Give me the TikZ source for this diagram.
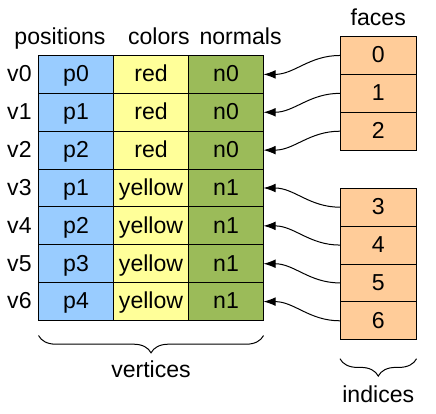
\documentclass[tikz,border=0pt]{standalone}
\usepackage{fontspec}
\setmainfont{Liberation Sans}
\usetikzlibrary{positioning,arrows.meta,decorations.pathreplacing}
\definecolor{posblue}{RGB}{153,204,255}
\definecolor{colyellow}{RGB}{255,255,153}
\definecolor{nrmgreen}{RGB}{155,187,89}
\definecolor{idxorange}{RGB}{255,204,153}
\tikzset{
	vtxcell/.style={
		draw,
		line width=0.75pt,
		outer sep=0pt,
		inner sep=0pt,
		minimum width=56.25pt,
		minimum height=28.4pt,
		text height=11pt,
		text depth=0pt
	},
	vtxPos/.style={vtxcell, fill=posblue},
	vtxCol/.style={vtxcell, fill=colyellow},
	vtxNrm/.style={vtxcell, fill=nrmgreen},
	faceIdx/.style={vtxcell, fill=idxorange, minimum width=57.4pt},
	headLabel/.style={inner sep=0pt},
	idxArrow/.style={-{Latex[length=9pt,width=6.5pt]}, line width=0.75pt},
	idxBrace/.style={decorate, decoration={brace, mirror, amplitude=13pt}, line width=0.75pt}
}

\begin{document}
\begin{tikzpicture}[font=\fontsize{17.3pt}{20pt}\selectfont]

			\useasboundingbox (0,0) rectangle (327pt,-310.5pt);

			% Vertex table
			\node[vtxPos, anchor=north west] (pos0) at (28.9pt,-41.6pt) {p0};
			\node[vtxCol, right=0pt of pos0] (col0) {red};
			\node[vtxNrm, right=0pt of col0] (nrm0) {n0};

			\node[vtxPos, below=0pt of pos0] (pos1) {p1};
			\node[vtxCol, right=0pt of pos1] (col1) {red};
			\node[vtxNrm, right=0pt of col1] (nrm1) {n0};

			\node[vtxPos, below=0pt of pos1] (pos2) {p2};
			\node[vtxCol, right=0pt of pos2] (col2) {red};
			\node[vtxNrm, right=0pt of col2] (nrm2) {n0};

			\node[vtxPos, below=0pt of pos2] (pos3) {p1};
			\node[vtxCol, right=0pt of pos3] (col3) {yellow};
			\node[vtxNrm, right=0pt of col3] (nrm3) {n1};

			\node[vtxPos, below=0pt of pos3] (pos4) {p2};
			\node[vtxCol, right=0pt of pos4] (col4) {yellow};
			\node[vtxNrm, right=0pt of col4] (nrm4) {n1};

			\node[vtxPos, below=0pt of pos4] (pos5) {p3};
			\node[vtxCol, right=0pt of pos5] (col5) {yellow};
			\node[vtxNrm, right=0pt of col5] (nrm5) {n1};

			\node[vtxPos, below=0pt of pos5] (pos6) {p4};
			\node[vtxCol, right=0pt of pos6] (col6) {yellow};
			\node[vtxNrm, right=0pt of col6] (nrm6) {n1};

			% Column and row labels
			\node[headLabel, anchor=base] (posHead) at (45pt,-33pt) {positions};
			\node[headLabel, anchor=base] (colHead) at (119.1pt,-33pt) {colors};
			\node[headLabel, anchor=base] (nrmHead) at (180.4pt,-33pt) {normals};

			\node[headLabel, anchor=base east] (v0) at ([xshift=-5pt]pos0.base west) {v0};
			\node[headLabel, anchor=base east] (v1) at ([xshift=-5pt]pos1.base west) {v1};
			\node[headLabel, anchor=base east] (v2) at ([xshift=-5pt]pos2.base west) {v2};
			\node[headLabel, anchor=base east] (v3) at ([xshift=-5pt]pos3.base west) {v3};
			\node[headLabel, anchor=base east] (v4) at ([xshift=-5pt]pos4.base west) {v4};
			\node[headLabel, anchor=base east] (v5) at ([xshift=-5pt]pos5.base west) {v5};
			\node[headLabel, anchor=base east] (v6) at ([xshift=-5pt]pos6.base west) {v6};

			% Face indices
			\node[faceIdx, anchor=north west] (face0) at (255pt,-27.4pt) {0};
			\node[faceIdx, below=0pt of face0] (face1) {1};
			\node[faceIdx, below=0pt of face1] (face2) {2};

			\node[faceIdx, anchor=north west] (face3) at (255pt,-141.2pt) {3};
			\node[faceIdx, below=0pt of face3] (face4) {4};
			\node[faceIdx, below=0pt of face4] (face5) {5};
			\node[faceIdx, below=0pt of face5] (face6) {6};

			\node[headLabel, anchor=base] (facesHead) at ([yshift=8.6pt]face0.north) {faces};

			% Index arrows
			\draw[idxArrow] (face0.west) to[out=180, in=0] (nrm0.east);
			\draw[idxArrow] (face1.west) to[out=180, in=0] (nrm1.east);
			\draw[idxArrow] (face2.west) to[out=180, in=0] (nrm2.east);
			\draw[idxArrow] (face3.west) to[out=180, in=0] (nrm3.east);
			\draw[idxArrow] (face4.west) to[out=180, in=0] (nrm4.east);
			\draw[idxArrow] (face5.west) to[out=180, in=0] (nrm5.east);
			\draw[idxArrow] (face6.west) to[out=180, in=0] (nrm6.east);

			% Braces
			\draw[idxBrace] ([yshift=-11.25pt]pos6.south west) -- ([yshift=-11.25pt]nrm6.south east)
				node[midway, anchor=base, yshift=-31.3pt] (vtxLabel) {vertices};
			\draw[idxBrace] ([yshift=-14.25pt]face6.south west) -- ([yshift=-14.25pt]face6.south east)
				node[midway, anchor=base, yshift=-32.5pt] (idxLabel) {indices};

		\end{tikzpicture}
\end{document}
